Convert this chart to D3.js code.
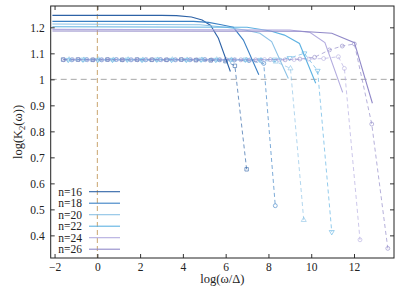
<!DOCTYPE html>
<html>
<head>
<meta charset="utf-8">
<script src="https://cdn.jsdelivr.net/npm/d3@7"></script>
<style>
  body { margin: 0; background: #fff; }
  svg text { font-family: "Liberation Serif", "Times New Roman", serif !important; }
</style>
</head>
<body>
<div class="stage"></div>
<script>
var chart = {};

// series names and colours
var names = ["n=16", "n=18", "n=20", "n=22", "n=24", "n=26"];
var colors = ["#2d62a6", "#3b80c4", "#8cc2e6", "#5eb2e2", "#b3acdf", "#9189c8"];
var markers = ["square", "circle", "triangle", "triangledown", "circle", "circle"];

// solid curves (no markers)
var solidX = [
  [-2.1, 3.0, 3.7, 4.4, 4.9, 5.3, 5.66, 6.22],
  [-2.1, 4.5, 5.2, 5.8, 6.36, 6.83, 7.55],
  [-2.1, 4.8, 6.0, 6.9, 7.6, 8.15, 8.93],
  [-2.1, 7.0, 8.1, 8.75, 9.45, 10.21],
  [-2.1, 9.0, 9.95, 10.64, 11.47],
  [-2.1, 9.5, 10.96, 12.02, 12.86]
];
var solidY = [
  [1.246, 1.246, 1.245, 1.240, 1.228, 1.207, 1.158, 1.030],
  [1.223, 1.223, 1.219, 1.210, 1.200, 1.151, 1.018],
  [1.213, 1.210, 1.200, 1.190, 1.177, 1.145, 1.003],
  [1.202, 1.200, 1.186, 1.170, 1.138, 0.985],
  [1.192, 1.190, 1.180, 1.141, 0.950],
  [1.186, 1.185, 1.177, 1.141, 0.908]
];

// dashed curves with markers
var dashX = [
  [-1.6, -0.91, -0.22, 0.47, 1.16, 1.85, 2.54, 3.23, 3.92, 4.61, 5.30, 5.99, 6.43, 6.98],
  [-1.19, -0.50, 0.19, 0.88, 1.57, 2.26, 2.95, 3.64, 4.33, 5.02, 5.71, 6.40, 7.09, 7.78, 8.32],
  [-1.32, -0.63, 0.06, 0.75, 1.44, 2.13, 2.82, 3.51, 4.20, 4.89, 5.58, 6.27, 6.96, 7.65, 8.34, 9.03, 9.65],
  [-1.36, -0.67, 0.02, 0.71, 1.40, 2.09, 2.78, 3.47, 4.16, 4.85, 5.54, 6.23, 6.92, 7.61, 8.30, 8.99, 9.68, 10.30, 10.96],
  [-1.15, -0.46, 0.23, 0.92, 1.61, 2.30, 2.99, 3.68, 4.37, 5.06, 5.75, 6.44, 7.13, 7.82, 8.51, 9.20, 9.89, 10.58, 11.27, 11.55, 12.28],
  [-1.57, -0.88, -0.19, 0.50, 1.19, 1.88, 2.57, 3.26, 3.95, 4.64, 5.33, 6.02, 6.71, 7.40, 8.09, 8.78, 9.47, 10.16, 10.85, 11.45, 12.02, 12.83, 13.58]
];
var dashY = [
  [1.076, 1.076, 1.075, 1.076, 1.075, 1.076, 1.075, 1.075, 1.076, 1.074, 1.073, 1.070, 1.052, 0.654],
  [1.075, 1.076, 1.075, 1.076, 1.075, 1.075, 1.076, 1.075, 1.075, 1.076, 1.075, 1.074, 1.072, 1.061, 0.514],
  [1.076, 1.075, 1.076, 1.075, 1.076, 1.075, 1.075, 1.076, 1.075, 1.075, 1.076, 1.075, 1.074, 1.073, 1.068, 1.042, 0.459],
  [1.075, 1.076, 1.075, 1.075, 1.076, 1.075, 1.076, 1.075, 1.075, 1.076, 1.075, 1.075, 1.076, 1.075, 1.076, 1.082, 1.100, 1.033, 0.413],
  [1.076, 1.075, 1.075, 1.076, 1.075, 1.076, 1.075, 1.075, 1.076, 1.075, 1.075, 1.076, 1.075, 1.076, 1.075, 1.076, 1.078, 1.080, 1.087, 1.042, 0.383],
  [1.075, 1.076, 1.075, 1.076, 1.075, 1.075, 1.076, 1.075, 1.076, 1.075, 1.075, 1.076, 1.075, 1.075, 1.076, 1.075, 1.078, 1.085, 1.113, 1.128, 1.136, 0.828, 0.350]
];

var xTicks = [-2, 0, 2, 4, 6, 8, 10, 12];
var yTicks = [0.4, 0.5, 0.6, 0.7, 0.8, 0.9, 1, 1.1, 1.2];

var W = 407, H = 288;
var pL = 50.7, pR = 394, pT = 6, pB = 258;
var serif = "Liberation Serif, Times New Roman, serif";

chart.svg = d3.select(".stage").append("svg").attr("width", W).attr("height", H);

var x = d3.scaleLinear().domain([-2.18, 13.87]).range([pL, pR]);
var y = d3.scaleLinear().domain([0.313, 1.282]).range([pB, pT]);

var svg = chart.svg;

// reference lines
svg.append("line").attr("x1", x(0)).attr("x2", x(0)).attr("y1", pT).attr("y2", pB)
  .attr("stroke", "#c9a46e").attr("stroke-width", 1).attr("stroke-dasharray", "5,3");
svg.append("line").attr("x1", pL).attr("x2", pR).attr("y1", y(1)).attr("y2", y(1))
  .attr("stroke", "#a8a8a8").attr("stroke-width", 1).attr("stroke-dasharray", "6,4");

var plot = svg.append("g");

var line = d3.line().x(function(d){ return x(d[0]); }).y(function(d){ return y(d[1]); });

// dashed series first, under solid ones
names.forEach(function(n, i){
  var pts = dashX[i].map(function(v, j){ return [v, dashY[i][j]]; });
  plot.append("path").datum(pts).attr("d", line)
    .attr("fill", "none").attr("stroke", colors[i]).attr("stroke-width", 0.9)
    .attr("stroke-dasharray", "4,3").attr("opacity", 0.75);

  var sym = d3.symbolCircle, size = 12;
  if (markers[i] == "square") { sym = d3.symbolSquare; size = 12; }
  if (markers[i] == "triangle") { sym = d3.symbolTriangle; size = 11; }
  if (markers[i] == "triangledown") { sym = d3.symbolTriangle; size = 11; }
  var rot = markers[i] == "triangledown" ? 180 : 0;

  plot.selectAll("path.m" + i).data(pts).enter()
    .append("path")
    .attr("class", "m" + i)
    .attr("d", d3.symbol().type(sym).size(size))
    .attr("transform", function(d){ return "translate(" + x(d[0]) + "," + y(d[1]) + ") rotate(" + rot + ")"; })
    .attr("fill", "none").attr("stroke", colors[i]).attr("stroke-width", 0.8).attr("opacity", 0.75);
});

names.forEach(function(n, i){
  var pts = solidX[i].map(function(v, j){ return [v, solidY[i][j]]; });
  plot.append("path").datum(pts).attr("d", line)
    .attr("fill", "none").attr("stroke", colors[i]).attr("stroke-width", 1.1);
});

// axes, ticks inward on all sides
var fmtY = function(d){ return d == 1 ? "1" : d3.format(".1f")(d); };

svg.append("g").attr("transform", "translate(0," + pB + ")")
  .call(d3.axisBottom(x).tickValues(xTicks).tickSizeInner(-4).tickSizeOuter(0).tickPadding(5).tickFormat(d3.format("d")));
svg.append("g").attr("transform", "translate(0," + pT + ")")
  .call(d3.axisTop(x).tickValues(xTicks).tickSizeInner(-4).tickSizeOuter(0).tickFormat(""));
svg.append("g").attr("transform", "translate(" + pL + ",0)")
  .call(d3.axisLeft(y).tickValues(yTicks).tickSizeInner(-4).tickSizeOuter(0).tickPadding(6).tickFormat(fmtY));
svg.append("g").attr("transform", "translate(" + pR + ",0)")
  .call(d3.axisRight(y).tickValues(yTicks).tickSizeInner(-4).tickSizeOuter(0).tickFormat(""));

svg.selectAll(".domain").remove();
svg.selectAll("g").attr("font-family", serif);
svg.selectAll(".tick line").attr("stroke", "#333");
svg.selectAll(".tick text").attr("font-size", 11.5).attr("fill", "#222");

svg.append("rect").attr("x", pL).attr("y", pT).attr("width", pR - pL).attr("height", pB - pT)
  .attr("fill", "none").attr("stroke", "#222").attr("stroke-width", 1);

// axis labels
svg.append("text").attr("x", (pL + pR) / 2).attr("y", 283).attr("text-anchor", "middle")
  .attr("font-family", serif).attr("font-size", 12.5).attr("fill", "#222").text("log(ω/Δ)");

var yl = svg.append("text").attr("transform", "translate(22," + ((pT + pB) / 2) + ") rotate(-90)")
  .attr("text-anchor", "middle").attr("font-family", serif).attr("font-size", 12.5).attr("fill", "#222");
yl.append("tspan").text("log(K");
yl.append("tspan").attr("font-size", 8.5).attr("dy", 3).text("2");
yl.append("tspan").attr("dy", -3).text("(ω))");

// legend
var legY = [191.7, 203.2, 214.7, 226.2, 237.7, 249.2];
var leg = svg.append("g");
names.forEach(function(n, i){
  leg.append("text").attr("x", 82).attr("y", legY[i] + 3.8).attr("text-anchor", "end")
    .attr("font-family", serif).attr("font-size", 11.5).attr("fill", "#222").text(n);
  leg.append("line").attr("x1", 89).attr("x2", 120).attr("y1", legY[i]).attr("y2", legY[i])
    .attr("stroke", colors[i]).attr("stroke-width", 1.1);
});
</script>
</body>
</html>
